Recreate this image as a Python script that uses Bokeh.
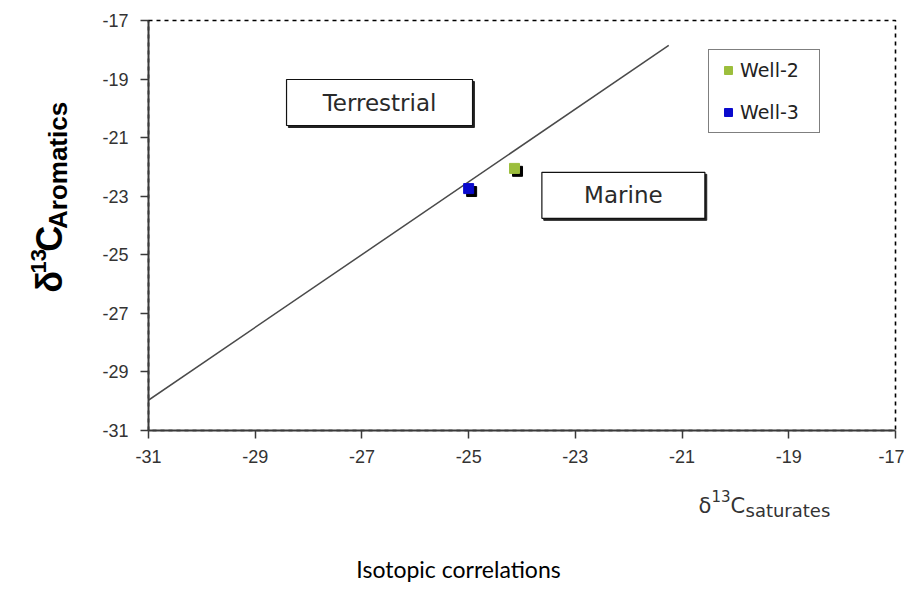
import numpy as np
from bokeh.plotting import figure
from bokeh.layouts import column, row
from bokeh.models import Range1d, FixedTicker, Label, ColumnDataSource, Legend, LegendItem
from bokeh.transform import dodge
from bokeh.embed import file_html
from bokeh.resources import INLINE
from bokeh.core.properties import value

# ---------------- data ----------------
series_names = ["Well-2", "Well-3"]
series_colors = ["#9cbe3c", "#0a0acd"]
sat_values = [-24.14, -25.0]       # d13C saturates (x)
aro_values = [-22.05, -22.74]      # d13C aromatics (y)
line_x = [-31.15, -21.25]          # terrestrial / marine divide
line_y = [-30.15, -17.85]
tick_values = [-31, -29, -27, -25, -23, -21, -19, -17]
tick_labels = ["-31", "-29", "-27", "-25", "-23", "-21", "-19", "-17"]
box_labels = ["Terrestrial", "Marine"]
box_x = [-26.67, -22.1]
box_y = [-19.8, -22.97]

# ---------------- layout ----------------
TOTAL_W, TOTAL_H = 904, 588
LEFT_W = 90                 # strip holding the y title
MAIN_H = 470                # main plot height
FL, FT, FR, FB = 148 - LEFT_W, 20, 9, 40
XMIN, XMAX, YMIN, YMAX = -31, -17, -31, -17


def text_fig(w, h, x0, x1, y0, y1):
    f = figure(width=w, height=h, output_backend="svg", toolbar_location=None,
               x_range=Range1d(x0, x1), y_range=Range1d(y1, y0),
               x_axis_type=None, y_axis_type=None, min_border=0)
    f.xgrid.visible = False
    f.ygrid.visible = False
    f.outline_line_color = None
    f.background_fill_color = "white"
    f.border_fill_color = "white"
    return f


p = figure(width=TOTAL_W - LEFT_W, height=MAIN_H, output_backend="svg",
           toolbar_location=None,
           x_range=Range1d(XMIN, XMAX), y_range=Range1d(YMIN, YMAX),
           min_border_left=FL, min_border_right=FR, min_border_top=FT,
           min_border_bottom=FB)
p.xgrid.visible = False
p.ygrid.visible = False
p.background_fill_color = "white"
p.border_fill_color = "white"
p.outline_line_color = "black"
p.outline_line_dash = "4 4"
p.outline_line_width = 1.6

overrides = {v: t for v, t in zip(tick_values, tick_labels)}
for ax in (p.xaxis[0], p.yaxis[0]):
    ax.ticker = FixedTicker(ticks=tick_values)
    ax.major_label_overrides = overrides
    ax.axis_line_color = "#3a3a3a"
    ax.axis_line_width = 2
    ax.major_tick_line_color = "#3a3a3a"
    ax.major_tick_line_width = 1.5
    ax.major_tick_out = 8
    ax.major_tick_in = 0
    ax.minor_tick_out = 0
    ax.minor_tick_in = 0
    ax.major_label_text_font = "Liberation Sans"
    ax.major_label_text_font_size = "18px"
    ax.major_label_text_color = "#333333"
p.xaxis.major_label_standoff = 11
p.yaxis.major_label_standoff = 12

# divide line
p.line(line_x, line_y, line_color="#4a4a4a", line_width=1.5)

# label boxes
box_w = [186, 163]
box_h = [46, 46]
bsrc = ColumnDataSource(dict(x=box_x, y=box_y, label=box_labels, w=box_w, h=box_h))
p.rect(x=dodge("x", 0.035), y=dodge("y", -0.068), width="w", height="h",
       width_units="screen", height_units="screen", source=bsrc,
       fill_color="#222222", line_color="#222222")
p.rect(x="x", y="y", width="w", height="h", width_units="screen",
       height_units="screen", source=bsrc, fill_color="white",
       line_color="#111111", line_width=1.2)
p.text(x="x", y="y", text="label", source=bsrc, text_align="center",
       text_baseline="middle", text_font=value("DejaVu Sans"),
       text_font_size="23px", text_color="#2a2a2a")

# markers with shadow
src = ColumnDataSource(dict(x=sat_values, y=aro_values))
p.scatter(x=dodge("x", 0.056), y=dodge("y", -0.1), source=src, marker="square",
          size=10, fill_color="black", line_color="black")
items = []
for i, name in enumerate(series_names):
    r = p.scatter(x=[sat_values[i]], y=[aro_values[i]], marker="square", size=10,
                  fill_color=series_colors[i], line_color=series_colors[i])
    items.append(LegendItem(label=name, renderers=[r]))

legend = Legend(items=items, location=(560, 297), border_line_color="black",
                border_line_width=1, background_fill_color="white",
                background_fill_alpha=1.0, label_text_font="DejaVu Sans",
                label_text_font_size="19px", label_text_color="#222222",
                glyph_width=20, glyph_height=20, padding=9, spacing=20,
                label_standoff=2, label_width=70, margin=0)
p.add_layout(legend)

# ---- y title strip: δ13C Aromatics (rotated) ----
yfig = text_fig(LEFT_W, MAIN_H, 0, LEFT_W, 0, MAIN_H)
ylab = [
    ("δ", 49, 312, "36px"),
    ("13", 38, 290, "22px"),
    ("C", 49, 265, "36px"),
    ("Aromatics", 57, 239, "26px"),
]
for t, bx, by, fs in ylab:
    yfig.add_layout(Label(x=bx, y=by, text=t, angle=np.pi / 2,
                          text_font="Liberation Sans", text_font_style="bold",
                          text_font_size=fs, text_color="black",
                          text_align="left", text_baseline="alphabetic"))

# ---- bottom strip: x title and caption ----
bfig = text_fig(TOTAL_W, TOTAL_H - MAIN_H, 0, TOTAL_W, MAIN_H, TOTAL_H)
xlab = [
    ("δ", 698, 505, "21px"),
    ("13", 711, 495, "15px"),
    ("C", 730, 505, "21px"),
    ("saturates", 745, 510, "18px"),
]
for t, bx, by, fs in xlab:
    bfig.add_layout(Label(x=bx, y=by, text=t, text_font="DejaVu Sans",
                          text_font_size=fs, text_color="#333333",
                          text_align="left", text_baseline="alphabetic"))
bfig.add_layout(Label(x=458, y=568, text="Isotopic correlations",
                      text_font="Lato", text_font_size="23px",
                      text_color="black", text_align="center",
                      text_baseline="alphabetic"))

layout = column(row(yfig, p), bfig)
open("out.html", "w").write(file_html(layout, INLINE))
